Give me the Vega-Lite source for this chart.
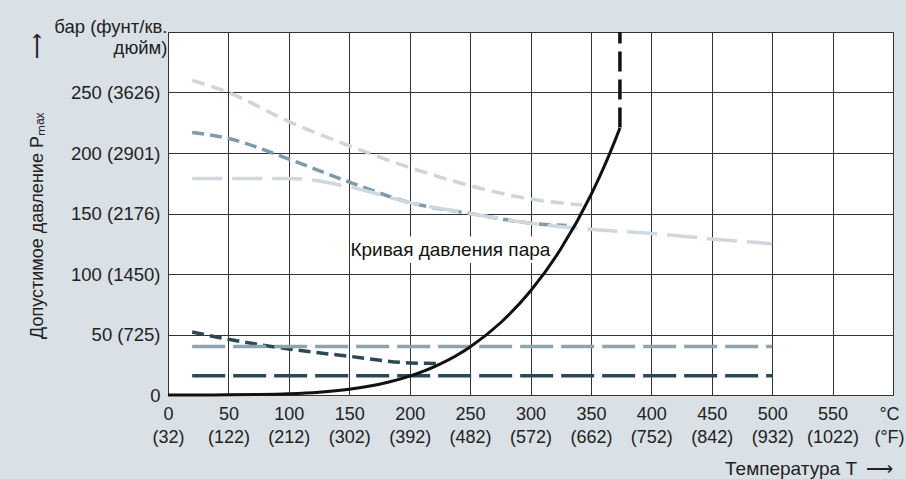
{
  "$schema": "https://vega.github.io/schema/vega-lite/v6.json",
  "width": 725,
  "height": 363,
  "autosize": {"type": "none"},
  "padding": {"left": 168, "top": 32, "right": 13, "bottom": 84},
  "background": "#d9e0e6",
  "config": {
    "font": "Liberation Sans",
    "view": {"fill": "white", "stroke": "#444", "strokeWidth": 1},
    "axis": {
      "labelFont": "Liberation Sans",
      "labelFontSize": 18,
      "labelColor": "#222",
      "titleFont": "Liberation Sans",
      "titleFontSize": 18,
      "titleFontWeight": "normal",
      "titleColor": "#222",
      "grid": true,
      "gridColor": "#333",
      "gridWidth": 1,
      "gridOpacity": 1,
      "ticks": false,
      "tickSize": 0,
      "domain": false
    }
  },
  "datasets": {
    "curves": [
      {"series": "A", "T": 20, "P": 260},
      {"series": "A", "T": 50, "P": 250},
      {"series": "A", "T": 100, "P": 226},
      {"series": "A", "T": 150, "P": 206},
      {"series": "A", "T": 200, "P": 188},
      {"series": "A", "T": 250, "P": 173},
      {"series": "A", "T": 300, "P": 162},
      {"series": "A", "T": 343, "P": 157},
      {"series": "B", "T": 20, "P": 217},
      {"series": "B", "T": 50, "P": 212},
      {"series": "B", "T": 100, "P": 195},
      {"series": "B", "T": 150, "P": 176},
      {"series": "B", "T": 200, "P": 159},
      {"series": "B", "T": 250, "P": 150},
      {"series": "B", "T": 300, "P": 142},
      {"series": "B", "T": 330, "P": 140},
      {"series": "C", "T": 20, "P": 179},
      {"series": "C", "T": 100, "P": 179},
      {"series": "C", "T": 150, "P": 172},
      {"series": "C", "T": 200, "P": 159},
      {"series": "C", "T": 250, "P": 150},
      {"series": "C", "T": 300, "P": 142},
      {"series": "C", "T": 350, "P": 137},
      {"series": "C", "T": 400, "P": 133.5},
      {"series": "C", "T": 450, "P": 129},
      {"series": "C", "T": 500, "P": 125},
      {"series": "D", "T": 20, "P": 52},
      {"series": "D", "T": 50, "P": 46},
      {"series": "D", "T": 100, "P": 38},
      {"series": "D", "T": 150, "P": 32},
      {"series": "D", "T": 200, "P": 26.5},
      {"series": "D", "T": 225, "P": 26},
      {"series": "E", "T": 20, "P": 40},
      {"series": "E", "T": 500, "P": 40},
      {"series": "F", "T": 20, "P": 16},
      {"series": "F", "T": 500, "P": 16}
    ],
    "steam": [
      {"T": 0, "P": 0.006},
      {"T": 25, "P": 0.032},
      {"T": 50, "P": 0.123},
      {"T": 75, "P": 0.386},
      {"T": 100, "P": 1.014},
      {"T": 125, "P": 2.32},
      {"T": 150, "P": 4.76},
      {"T": 175, "P": 8.92},
      {"T": 200, "P": 15.55},
      {"T": 225, "P": 25.5},
      {"T": 250, "P": 39.76},
      {"T": 275, "P": 59.5},
      {"T": 300, "P": 85.9},
      {"T": 325, "P": 120.6},
      {"T": 350, "P": 165.3},
      {"T": 360, "P": 186.7},
      {"T": 365, "P": 198.3},
      {"T": 370, "P": 210.4},
      {"T": 374, "P": 220.6}
    ],
    "critical": [
      {"T": 374, "P": 221},
      {"T": 374, "P": 300}
    ],
    "label": [
      {"T": 151, "T2": 322, "P": 109, "P2": 131, "text": "Кривая давления пара"}
    ]
  },
  "layer": [
    {
      "data": {"name": "label"},
      "mark": {"type": "rect", "fill": "white", "stroke": null},
      "encoding": {
        "x": {
          "field": "T", "type": "quantitative",
          "scale": {"domain": [0, 600], "nice": false, "zero": true},
          "axis": {
            "values": [0, 50, 100, 150, 200, 250, 300, 350, 400, 450, 500, 550, 600],
            "labelFlush": false,
            "labelOverlap": false,
            "labelBaseline": "top",
            "labelPadding": 10,
            "labelLineHeight": 23,
            "labelOffset": {"condition": {"test": "datum.value == 600", "value": -4}, "value": 0},
            "labelExpr": "datum.value == 600 ? ['°C', '(°F)'] : [datum.label, '(' + round(datum.value * 1.8 + 32) + ')']",
            "title": "Температура T\u2002⟶",
            "titleFontSize": 19,
            "titleAnchor": "end",
            "titleAlign": "right",
            "titleBaseline": "alphabetic",
            "titleX": 725,
            "titleY": 79
          }
        },
        "x2": {"field": "T2"},
        "y": {
          "field": "P", "type": "quantitative",
          "scale": {"domain": [0, 300], "nice": false, "zero": true},
          "axis": {
            "values": [0, 50, 100, 150, 200, 250, 300],
            "labelOverlap": false,
            "labelFlush": false,
            "labelAlign": "right",
            "labelFontSize": 18.5,
            "labelBaseline": {"condition": {"test": "datum.value == 300", "value": "alphabetic"}, "value": "middle"},
            "labelPadding": {"condition": {"test": "datum.value == 300", "value": 1}, "value": 8},
            "labelLineHeight": 21,
            "labelExpr": "datum.value == 300 ? ['бар (фунт/кв.', 'дюйм)'] : (datum.value == 0 ? '0' : datum.label + ' (' + round(datum.value * 14.5038) + ')')",
            "title": "Допустимое давление Pₘₐₓ\u2003\u2003\u2003⟶",
            "titleAngle": -90,
            "titleAlign": "right",
            "titleBaseline": "middle",
            "titleAnchor": null,
            "titleX": -131,
            "titleY": 0
          }
        },
        "y2": {"field": "P2"}
      }
    },
    {
      "data": {"name": "curves"},
      "mark": {"type": "line", "strokeWidth": 3.5, "interpolate": "monotone", "strokeCap": "butt"},
      "encoding": {
        "x": {"field": "T", "type": "quantitative"},
        "y": {"field": "P", "type": "quantitative"},
        "color": {
          "field": "series", "type": "nominal",
          "scale": {"domain": ["A", "B", "C", "D", "E", "F"], "range": ["#cdd6db", "#7f9aa8", "#d0d8dd", "#2b4955", "#8ea5b1", "#2b4955"]},
          "legend": null
        },
        "strokeDash": {
          "field": "series", "type": "nominal",
          "scale": {"domain": ["A", "B", "C", "D", "E", "F"], "range": [[13, 7], [12, 6], [30, 10], [12, 6], [33, 8], [33, 8]]},
          "legend": null
        }
      }
    },
    {
      "data": {"name": "steam"},
      "mark": {"type": "line", "color": "#111", "strokeWidth": 3, "interpolate": "monotone"},
      "encoding": {
        "x": {"field": "T", "type": "quantitative"},
        "y": {"field": "P", "type": "quantitative"}
      }
    },
    {
      "data": {"name": "critical"},
      "mark": {"type": "line", "color": "#111", "strokeWidth": 3.5, "strokeDash": [20, 8], "strokeCap": "butt"},
      "encoding": {
        "x": {"field": "T", "type": "quantitative"},
        "y": {"field": "P", "type": "quantitative"}
      }
    },
    {
      "data": {"name": "label"},
      "mark": {"type": "text", "align": "left", "baseline": "middle", "fontSize": 19, "font": "Liberation Sans", "color": "#111"},
      "encoding": {
        "x": {"field": "T", "type": "quantitative"},
        "y": {"datum": 120, "type": "quantitative"},
        "text": {"field": "text"}
      }
    }
  ]
}
